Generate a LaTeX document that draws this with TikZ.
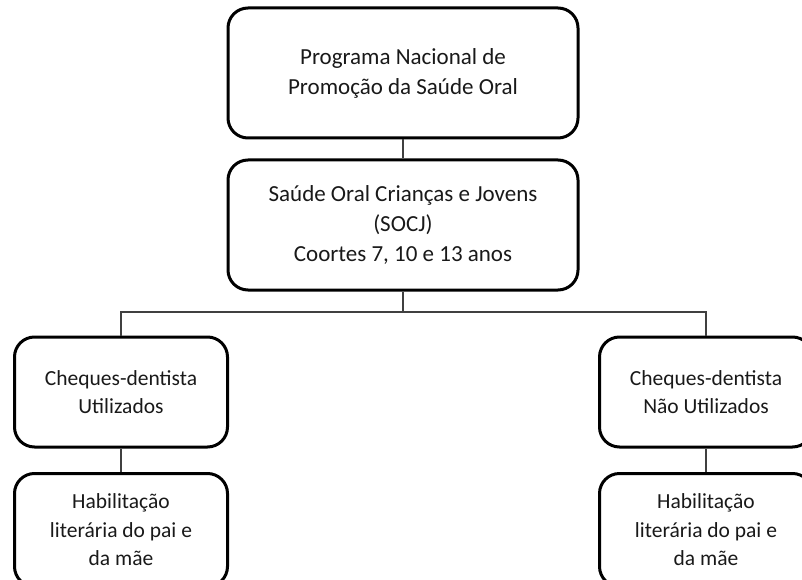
\documentclass[tikz,border=0pt]{standalone}
\usepackage{fontspec}
\setmainfont{Carlito}
\begin{document}
\begin{tikzpicture}[x=1pt,y=-1pt,
  box/.style={draw=black, line width=3pt, rounded corners=20pt, align=center,
    inner sep=0pt, text=black!90},
  bigtxt/.style={font=\fontsize{23}{30}\selectfont},
  smalltxt/.style={font=\fontsize{21.5}{28.5}\selectfont},
  conn/.style={draw=black!75, line width=1.2pt}]
\useasboundingbox (0,0) rectangle (802,580);
\node[box, bigtxt, minimum width=350pt, minimum height=130pt] (top) at (403,73)
  {Programa Nacional de\\Promoção da Saúde Oral};
\node[box, bigtxt, minimum width=350pt, minimum height=130pt] (mid) at (403,225)
  {Saúde Oral Crianças e Jovens\\(SOCJ)\\Coortes 7, 10 e 13 anos};
\node[box, smalltxt, minimum width=213pt, minimum height=110pt] (l1) at (121,392)
  {Cheques-dentista\\Utilizados};
\node[box, smalltxt, minimum width=213pt, minimum height=113pt] (l2) at (121,530)
  {Habilitação\\literária do pai e\\da mãe};
\node[box, smalltxt, minimum width=213pt, minimum height=110pt] (r1) at (706,392)
  {Cheques-dentista\\Não Utilizados};
\node[box, smalltxt, minimum width=213pt, minimum height=113pt] (r2) at (706,530)
  {Habilitação\\literária do pai e\\da mãe};
\coordinate (bus) at (403,312);
\draw[conn] (top.south) -- (mid.north);
\draw[conn] (mid.south) -- (bus);
\draw[conn] (bus) -| (l1.north);
\draw[conn] (bus) -| (r1.north);
\draw[conn] (l1.south) -- (l2.north);
\draw[conn] (r1.south) -- (r2.north);
\end{tikzpicture}
\end{document}
